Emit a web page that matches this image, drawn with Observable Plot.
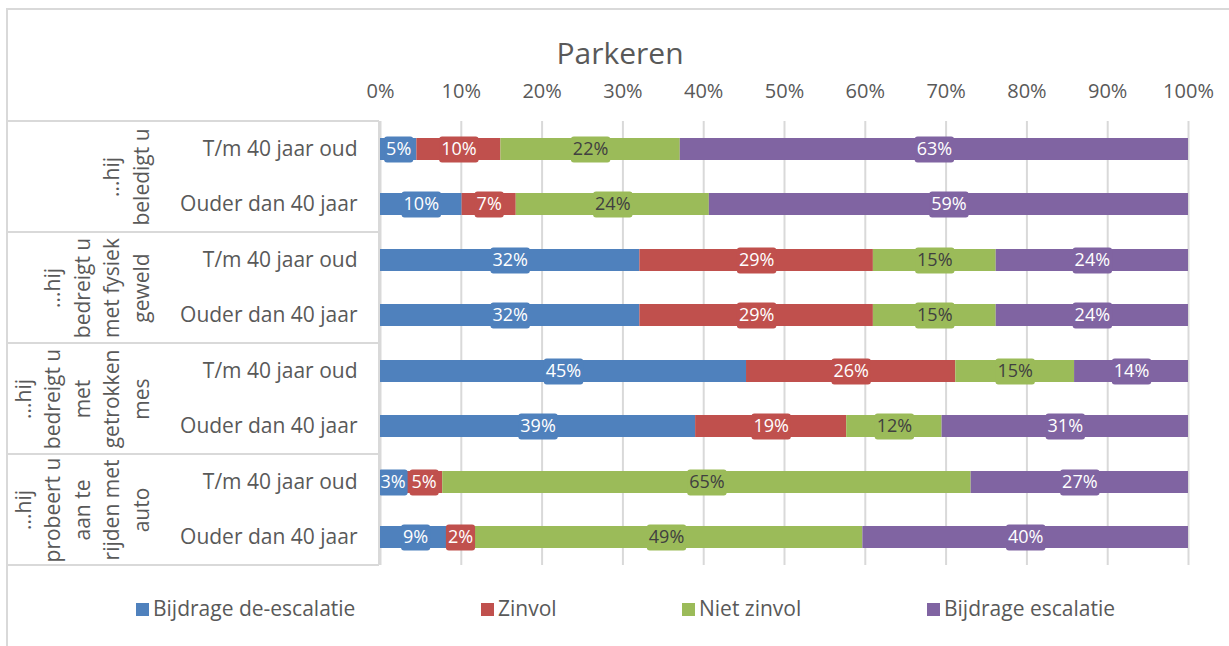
<!DOCTYPE html>
<html>
<head>
<meta charset="utf-8">
<script src="https://cdn.jsdelivr.net/npm/d3@7"></script>
<script src="https://cdn.jsdelivr.net/npm/@observablehq/plot@0.6"></script>
<style>
  html, body { margin: 0; padding: 0; background: #fff; }
  body { font-family: "Open Sans", sans-serif; }
  #wrap { position: relative; width: 1229px; height: 646px; overflow: hidden; background: #fff; }
  #border { position: absolute; left: 6px; top: 8px; width: 1400px; height: 800px;
            border-left: 2px solid #D9D9D9; border-top: 2px solid #D9D9D9; }
  #chart { position: absolute; left: 0; top: 0; }
  #title { position: absolute; left: 0; width: 1240px; top: 32px; text-align: center;
           font-size: 30px; line-height: normal; color: #595959; }
  .lg { position: absolute; top: 594px; font-size: 21px; line-height: normal; color: #595959; white-space: nowrap; }
  .sw { position: absolute; width: 13px; height: 13px; }
</style>
</head>
<body>
<div id="wrap">
  <div id="border"></div>
  <div id="chart"></div>
  <div id="title">Parkeren</div>
  <div id="legend"></div>
</div>
<script>
// ---- data ----
const groups = ["...hij beledigt u", "...hij bedreigt u met fysiek geweld", "...hij bedreigt u met getrokken mes", "...hij probeert u aan te rijden met auto"];
const groupLabels = ["...hij\nbeledigt u", "...hij\nbedreigt u\nmet fysiek\ngeweld", "...hij\nbedreigt u\nmet\ngetrokken\nmes", "...hij\nprobeert u\naan te\nrijden met\nauto"];
const ages = ["T/m 40 jaar oud", "Ouder dan 40 jaar"];
const series = ["Bijdrage de-escalatie", "Zinvol", "Niet zinvol", "Bijdrage escalatie"];
const colors = ["#4F81BD", "#C0504D", "#9BBB59", "#8064A2"];
// one value per bar row (group x age), in row order
const deEscalatie = [4.5, 10.1, 32.1, 32.1, 45.3, 39.0, 3.1, 8.7];
const zinvol      = [10.4, 6.7, 28.9, 28.9, 25.9, 18.7, 4.6, 2.4];
const nietZinvol  = [22.2, 23.9, 15.2, 15.2, 14.7, 11.8, 65.4, 48.6];
const escalatie   = [62.9, 59.3, 23.8, 23.8, 14.1, 30.5, 26.9, 40.3];
const xTicks = [0, 10, 20, 30, 40, 50, 60, 70, 80, 90, 100];

const seriesValues = [deEscalatie, zinvol, nietZinvol, escalatie];
const rows = [];
groups.forEach((g, gi) => ages.forEach((a, ai) => {
  const r = gi * 2 + ai;
  series.forEach((s, si) => rows.push({group: g, sub: a, series: s, value: seriesValues[si][r]}));
}));
const groupRows = groups.map((g, i) => ({group: g, label: groupLabels[i]}));
const fmt = v => Math.round(v) + "%";

const W = 1229, H = 575, mt = 121, mb = 10, ml = 380, mr = 41;

const plot = Plot.plot({
  width: W, height: H,
  marginLeft: ml, marginRight: mr, marginTop: mt, marginBottom: mb,
  style: {fontFamily: '"Open Sans", sans-serif', fontSize: "20px", color: "#595959", background: "transparent", overflow: "visible"},
  x: {domain: [0, 100], label: null},
  y: {domain: ages, paddingInner: 0.6, paddingOuter: 0.3, label: null},
  fy: {domain: groups, padding: 0, axis: null, label: null},
  color: {domain: series, range: colors},
  marks: [
    Plot.gridX(xTicks, {stroke: "#D9D9D9", strokeOpacity: 1, strokeWidth: 2}),
    Plot.axisX(xTicks, {anchor: "top", tickSize: 0, tickPadding: 24, tickFormat: d => d + "%", fontSize: 20, label: null}),
    Plot.axisY({anchor: "left", tickSize: 0, tickPadding: 23, fontSize: 21, label: null}),
    Plot.barX(rows, {x: "value", y: "sub", fy: "group", fill: "series"}),
    Plot.text(rows, Plot.stackX({x: "value", y: "sub", fy: "group", text: d => fmt(d.value), fill: "white", fontSize: 18})),
    Plot.text(groupRows, {fy: "group", text: "label", frameAnchor: "left", rotate: -90, textAnchor: "middle", lineAnchor: "bottom", lineHeight: 1.4, dx: -232, fontSize: 21, fill: "#595959"})
  ]
});

document.getElementById("chart").appendChild(plot);

// label boxes behind each data label
const colorOf = new Map(series.map((s, i) => [s, colors[i]]));
function parseT(el) {
  const m = /translate\(\s*([-\d.e]+)[ ,]+([-\d.e]+)\s*\)/.exec(el.getAttribute("transform") || "");
  return m ? [+m[1], +m[2]] : [0, 0];
}
d3.select(plot).selectAll('g[aria-label="text"] text').each(function(i) {
  const txt = this.textContent;
  if (!/%$/.test(txt)) return;
  const [tx, ty] = parseT(this);
  let fill = null, isGreen = false;
  const d = (typeof i === "number") ? rows[i] : null;
  if (d && fmt(d.value) === txt) {
    fill = colorOf.get(d.series);
    isGreen = d.series === "Niet zinvol";
  } else {
    // fallback: take the colour of the bar under the label
    const facet = this.parentNode.parentNode;
    facet.querySelectorAll('g[aria-label="bar"] rect').forEach(r => {
      const x = +r.getAttribute("x"), y = +r.getAttribute("y"), w = +r.getAttribute("width"), h = +r.getAttribute("height");
      if (tx >= x - 0.5 && tx <= x + w + 0.5 && ty >= y && ty <= y + h) fill = r.getAttribute("fill");
    });
    isGreen = fill && fill.toUpperCase() === colors[2];
  }
  if (!fill) return;
  const bb = this.getBBox();
  const rect = document.createElementNS("http://www.w3.org/2000/svg", "rect");
  rect.setAttribute("x", bb.x - 2);
  rect.setAttribute("width", bb.width + 4);
  rect.setAttribute("y", -13);
  rect.setAttribute("height", 26);
  rect.setAttribute("rx", 3);
  rect.setAttribute("fill", fill);
  rect.setAttribute("transform", this.getAttribute("transform"));
  this.parentNode.insertBefore(rect, this);
  if (isGreen) this.setAttribute("fill", "#404040");
});

// category table lines on the left
const svg = d3.select(plot);
const tbl = svg.append("g").attr("stroke", "#D9D9D9").attr("stroke-width", 2);
const innerH = H - mt - mb;
for (let k = 0; k <= groups.length; k++) {
  const y = mt + k * innerH / groups.length;
  tbl.append("line").attr("x1", 7).attr("x2", ml - 1).attr("y1", y).attr("y2", y);
}
tbl.append("line").attr("x1", ml - 1).attr("x2", ml - 1).attr("y1", mt).attr("y2", H - mb);

// legend
const legendX = [136, 481, 682, 927];
const lg = document.getElementById("legend");
series.forEach((s, i) => {
  const sw = document.createElement("div");
  sw.className = "sw";
  sw.style.left = legendX[i] + "px";
  sw.style.top = "603px";
  sw.style.background = colors[i];
  lg.appendChild(sw);
  const t = document.createElement("div");
  t.className = "lg";
  t.style.left = (legendX[i] + 17) + "px";
  t.textContent = s;
  lg.appendChild(t);
});
</script>
</body>
</html>
